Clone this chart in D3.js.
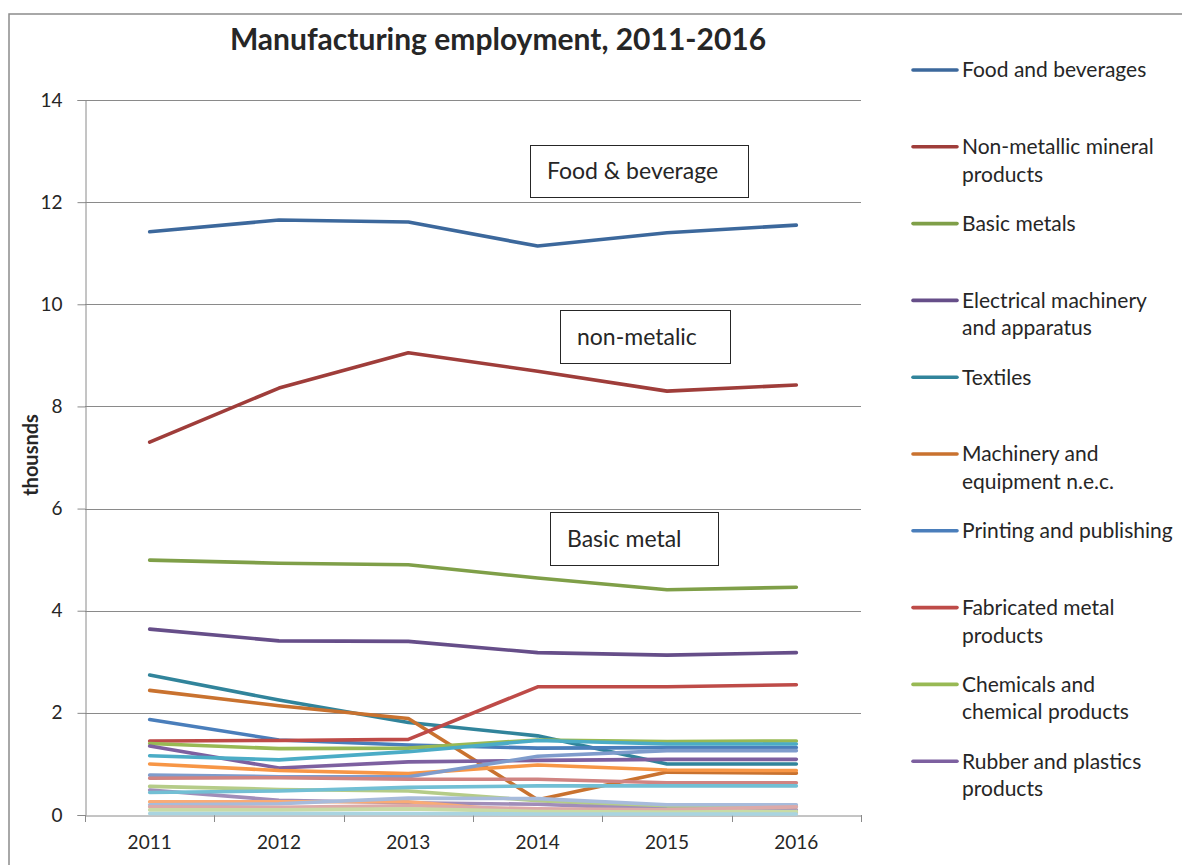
<!DOCTYPE html>
<html>
<head>
<meta charset="utf-8">
<script src="https://cdn.jsdelivr.net/npm/d3@7"></script>
<style>
  html, body { margin: 0; padding: 0; background: #fff; }
  svg { display: block; }
  text { font-family: Lato, "Open Sans", sans-serif; fill: #262626; }
</style>
</head>
<body>
<svg id="chart" width="1182" height="865"></svg>
<script>
// Years on the category axis
const years = ["2011", "2012", "2013", "2014", "2015", "2016"];

// Employment by industry, thousands
const foodBeverages   = [11.42, 11.65, 11.61, 11.14, 11.40, 11.55];
const nonMetallic     = [7.30, 8.36, 9.05, 8.69, 8.30, 8.42];
const basicMetals     = [4.99, 4.93, 4.90, 4.64, 4.41, 4.46];
const electrical      = [3.64, 3.41, 3.40, 3.18, 3.13, 3.18];
const textiles        = [2.74, 2.25, 1.81, 1.55, 1.00, 1.00];
const machinery       = [2.44, 2.14, 1.89, 0.30, 0.84, 0.82];
const printing        = [1.87, 1.47, 1.37, 1.31, 1.32, 1.32];
const fabricated      = [1.45, 1.46, 1.48, 2.51, 2.51, 2.55];
const chemicals       = [1.40, 1.30, 1.31, 1.47, 1.44, 1.45];
const rubberPlastics  = [1.35, 0.92, 1.04, 1.07, 1.09, 1.09];
const wearingApparel  = [1.16, 1.08, 1.24, 1.46, 1.39, 1.39];
const furniture       = [1.00, 0.87, 0.81, 0.98, 0.88, 0.87];
const woodProducts    = [0.78, 0.75, 0.75, 1.15, 1.26, 1.26];
const paperProducts   = [0.72, 0.73, 0.70, 0.70, 0.63, 0.63];
const leather         = [0.56, 0.50, 0.47, 0.28, 0.16, 0.17];
const motorVehicles   = [0.49, 0.29, 0.24, 0.21, 0.11, 0.10];
const medicalOptical  = [0.44, 0.47, 0.54, 0.57, 0.57, 0.57];
const transportEquip  = [0.26, 0.26, 0.26, 0.05, 0.04, 0.05];
const tobacco         = [0.20, 0.22, 0.33, 0.32, 0.20, 0.20];
const recycling       = [0.16, 0.15, 0.18, 0.12, 0.10, 0.16];
const officeMachinery = [0.10, 0.10, 0.12, 0.07, 0.06, 0.07];
const cokePetroleum   = [0.03, 0.03, 0.03, 0.02, 0.02, 0.02];

const seriesNames = [
  "Food and beverages", "Non-metallic mineral products", "Basic metals",
  "Electrical machinery and apparatus", "Textiles", "Machinery and equipment n.e.c.",
  "Printing and publishing", "Fabricated metal products", "Chemicals and chemical products",
  "Rubber and plastics products", "Wearing apparel", "Furniture", "Wood products",
  "Paper products", "Leather products", "Motor vehicles", "Medical and optical instruments",
  "Other transport equipment", "Tobacco products", "Recycling", "Office machinery",
  "Coke and refined petroleum"
];
const seriesValues = [
  foodBeverages, nonMetallic, basicMetals, electrical, textiles, machinery,
  printing, fabricated, chemicals, rubberPlastics, wearingApparel, furniture,
  woodProducts, paperProducts, leather, motorVehicles, medicalOptical,
  transportEquip, tobacco, recycling, officeMachinery, cokePetroleum
];
const seriesColors = [
  "#3c689c", "#9f3d3a", "#7f9f48", "#664e89", "#31849b", "#c9722f",
  "#4a7ebb", "#be4b48", "#98b954", "#7d60a0", "#4bacc6", "#f79646",
  "#7f9ccc", "#d08482", "#b5cc88", "#a08db9", "#72bfd4", "#f9ab75",
  "#a7bbdb", "#dcaaa9", "#c9dba6", "#a9d4e0"
];
// The legend lists the first ten industries
const legendCount = 10;

const yTicks = [0, 2, 4, 6, 8, 10, 12, 14];

// Labels of the text boxes placed on the plot
const calloutLabels = ["Food & beverage", "non-metalic", "Basic metal"];

const svg = d3.select("#chart");
const plot = { left: 85, right: 861, top: 100, bottom: 815 };

// Outer chart frame
svg.append("rect")
  .attr("x", 9).attr("y", 14)
  .attr("width", 1190).attr("height", 880)
  .attr("fill", "none").attr("stroke", "#8c8c8c").attr("stroke-width", 1.5);

const x = d3.scaleBand().domain(years).range([plot.left, plot.right]).paddingInner(0).paddingOuter(0);
const y = d3.scaleLinear().domain([0, 14]).range([plot.bottom, plot.top]);

// Horizontal gridlines
svg.append("g")
  .selectAll("line")
  .data(yTicks.filter(t => t > 0))
  .join("line")
  .attr("x1", plot.left).attr("x2", plot.right)
  .attr("y1", d => Math.round(y(d)) + 0.5).attr("y2", d => Math.round(y(d)) + 0.5)
  .attr("stroke", "#8a8a8a").attr("stroke-width", 1);

// Y axis
const yAxis = svg.append("g")
  .attr("transform", `translate(${plot.left + 0.5},0)`)
  .call(d3.axisLeft(y).tickValues(yTicks).tickSize(8).tickPadding(15).tickFormat(d3.format("d")));
yAxis.select(".domain").attr("stroke", "#8a8a8a");
yAxis.selectAll(".tick line").attr("stroke", "#8a8a8a");
yAxis.selectAll(".tick text")
  .attr("font-size", 19).attr("font-family", "Lato, sans-serif").attr("fill", "#262626");

// X axis with ticks between categories
const xAxis = svg.append("g")
  .attr("transform", `translate(0,${plot.bottom + 0.5})`)
  .call(d3.axisBottom(x).tickSize(0).tickPadding(20));
xAxis.select(".domain").attr("stroke", "#8a8a8a");
xAxis.selectAll(".tick text")
  .attr("font-size", 19).attr("font-family", "Lato, sans-serif").attr("fill", "#262626");
const boundaries = years.map(d => x(d)).concat([x(years[years.length - 1]) + x.bandwidth()]);
svg.append("g")
  .selectAll("line")
  .data(boundaries)
  .join("line")
  .attr("x1", d => Math.round(d) + 0.5).attr("x2", d => Math.round(d) + 0.5)
  .attr("y1", plot.bottom).attr("y2", plot.bottom + 7)
  .attr("stroke", "#8a8a8a");

// Y axis title
svg.append("text")
  .attr("transform", `translate(31,455) rotate(-90)`)
  .attr("text-anchor", "middle")
  .attr("dy", "0.35em")
  .attr("font-size", 20).attr("font-weight", 700)
  .attr("fill", "#000")
  .text("thousnds");

// Chart title
svg.append("text")
  .attr("x", 498).attr("y", 50)
  .attr("text-anchor", "middle")
  .attr("font-size", 30).attr("font-weight", 700)
  .attr("fill", "#000")
  .text("Manufacturing employment, 2011-2016");

// Series lines
const line = d3.line()
  .x((d, i) => x(years[i]) + x.bandwidth() / 2)
  .y(d => y(d));

svg.append("g")
  .selectAll("path")
  .data(seriesValues.map((v, i) => ({ values: v, color: seriesColors[i] })))
  .join("path")
  .attr("d", d => line(d.values))
  .attr("fill", "none")
  .attr("stroke", d => d.color)
  .attr("stroke-width", 3.6)
  .attr("stroke-linejoin", "round")
  .attr("stroke-linecap", "round");

// Callout boxes
const boxSpecs = [
  { text: calloutLabels[0], left: 530, top: 145, w: 218, h: 52 },
  { text: calloutLabels[1], left: 560, top: 310, w: 170, h: 53 },
  { text: calloutLabels[2], left: 550, top: 512, w: 168, h: 53 }
];
const boxes = svg.append("g").selectAll("g").data(boxSpecs).join("g");
boxes.append("rect")
  .attr("x", d => d.left + 0.5).attr("y", d => d.top + 0.5)
  .attr("width", d => d.w).attr("height", d => d.h)
  .attr("fill", "#fff").attr("stroke", "#262626").attr("stroke-width", 1);
boxes.append("text")
  .attr("x", d => d.left + 17).attr("y", d => d.top + d.h / 2)
  .attr("dy", "0.35em")
  .attr("font-size", 23)
  .attr("fill", "#000")
  .text(d => d.text);

// Legend
const legendWrap = {
  "Non-metallic mineral products": ["Non-metallic mineral", "products"],
  "Electrical machinery and apparatus": ["Electrical machinery", "and apparatus"],
  "Machinery and equipment n.e.c.": ["Machinery and", "equipment n.e.c."],
  "Fabricated metal products": ["Fabricated metal", "products"],
  "Chemicals and chemical products": ["Chemicals and", "chemical products"],
  "Rubber and plastics products": ["Rubber and plastics", "products"]
};
const legend = svg.append("g");
const legendItems = legend.selectAll("g")
  .data(seriesNames.slice(0, legendCount).map((n, i) => ({ name: n, color: seriesColors[i], i })))
  .join("g")
  .attr("transform", d => `translate(0,${70 + d.i * 76.8})`);
legendItems.append("line")
  .attr("x1", 913).attr("x2", 957)
  .attr("stroke", d => d.color).attr("stroke-width", 3.6)
  .attr("stroke-linecap", "round");
legendItems.append("text")
  .attr("x", 962)
  .attr("font-size", 21)
  .each(function (d) {
    const lines = legendWrap[d.name] || [d.name];
    d3.select(this).selectAll("tspan")
      .data(lines)
      .join("tspan")
      .attr("x", 962)
      .attr("y", (l, j) => j * 27.6)
      .attr("dy", "0.35em")
      .text(l => l);
  });
</script>
</body>
</html>
